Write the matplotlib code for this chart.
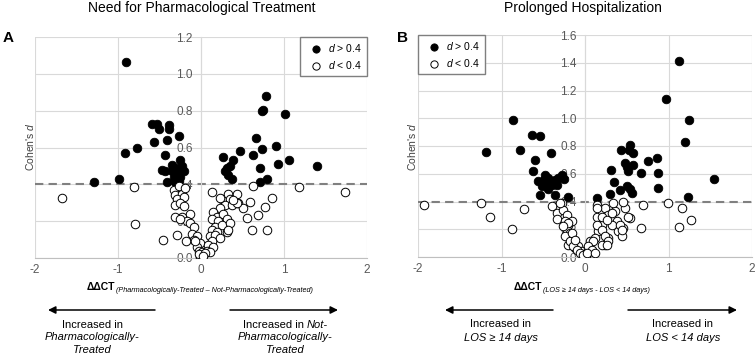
import matplotlib
matplotlib.use("Agg")
import matplotlib.pyplot as plt

plt.rcParams['font.family'] = ['Liberation Sans', 'DejaVu Sans']
plt.rcParams['mathtext.fontset'] = 'custom'
plt.rcParams['mathtext.rm'] = 'Liberation Sans'
plt.rcParams['mathtext.it'] = 'Liberation Sans:italic'

# ---- panel A: need for pharmacological treatment ----
a_sig_x = [-1.29, -0.99, -0.90, -0.92, -0.77, -0.59, -0.53, -0.51, -0.39, -0.39,
           -0.57, -0.41, -0.27, -0.43, -0.47, -0.43, -0.35, -0.25, -0.23, -0.21,
           -0.29, -0.33, -0.27, -0.41, -0.31, -0.25, -0.35, -0.30,
           0.78, 0.73, 0.75, 1.01, 0.66, 0.90, 0.73, 0.63, 0.47, 0.27,
           0.39, 0.35, 0.93, 1.06, 1.40, 0.29, 0.33, 0.37, 0.71, 0.71, 0.79, 0.31]
a_sig_y = [0.41, 0.43, 1.065, 0.57, 0.60, 0.73, 0.73, 0.70, 0.72, 0.70,
           0.63, 0.64, 0.66, 0.56, 0.48, 0.47, 0.505, 0.53, 0.50, 0.47,
           0.46, 0.44, 0.42, 0.415, 0.415, 0.44, 0.47, 0.49,
           0.88, 0.80, 0.805, 0.78, 0.65, 0.61, 0.59, 0.56, 0.58, 0.55,
           0.53, 0.50, 0.51, 0.53, 0.50, 0.47, 0.45, 0.43, 0.49, 0.415, 0.43, 0.49]
a_ns_x = [-1.67, -0.81, -0.80, -0.46, 1.18, 1.73, 0.63,
          -0.33, -0.31, -0.23, -0.29, -0.21, -0.31, -0.25, -0.21, -0.13, -0.23,
          -0.17, -0.31, -0.25, -0.13, -0.09, -0.11, -0.05, -0.09, -0.01, -0.05,
          -0.03, 0.01, 0.03, -0.01, -0.29, -0.18, -0.27, -0.19, -0.07, -0.02,
          0.13, 0.25, 0.33, 0.35, 0.43, 0.29, 0.23, 0.37, 0.45, 0.15, 0.19, 0.27,
          0.13, 0.21, 0.31, 0.17, 0.25, 0.35, 0.13, 0.19, 0.11, 0.17, 0.23, 0.13,
          0.09, 0.15, 0.07, 0.11, 0.05, 0.03, 0.31, 0.33,
          0.85, 0.77, 0.69, 0.79, 0.61, 0.55, 0.59, 0.51, 0.43, 0.39, 0.23]
a_ns_y = [0.325, 0.385, 0.185, 0.10, 0.385, 0.36, 0.39,
          0.37, 0.34, 0.35, 0.32, 0.33, 0.29, 0.30, 0.28, 0.24, 0.22,
          0.20, 0.22, 0.21, 0.19, 0.17, 0.13, 0.12, 0.10, 0.08, 0.06,
          0.04, 0.03, 0.016, 0.004, 0.125, 0.094, 0.39, 0.38, 0.09, 0.02,
          0.36, 0.32, 0.35, 0.32, 0.35, 0.29, 0.27, 0.29, 0.30, 0.25, 0.22, 0.24,
          0.21, 0.20, 0.21, 0.17, 0.18, 0.19, 0.15, 0.14, 0.12, 0.125, 0.11, 0.09,
          0.07, 0.06, 0.04, 0.03, 0.025, 0.01, 0.14, 0.152,
          0.324, 0.279, 0.234, 0.152, 0.152, 0.215, 0.306, 0.27, 0.297, 0.315, 0.324]

# ---- panel B: prolonged hospitalization ----
b_sig_x = [-1.19, -0.86, -0.64, -0.54, -0.78, -0.41, -0.60, -0.62, -0.48, -0.49,
           -0.44, -0.40, -0.36, -0.32, -0.27, -0.46, -0.40, -0.34, -0.52, -0.54,
           -0.36, -0.20, -0.25, -0.56, -0.44,
           1.13, 0.97, 1.24, 1.20, 1.55, 1.23, 0.54, 0.43, 0.58, 0.53, 0.75,
           0.86, 0.48, 0.50, 0.58, 0.52, 0.67, 0.87, 0.31, 0.35, 0.88, 0.42,
           0.50, 0.54, 0.56, 0.30, 0.14]
b_sig_y = [0.754, 0.99, 0.88, 0.87, 0.77, 0.75, 0.70, 0.62, 0.59, 0.557,
           0.57, 0.545, 0.557, 0.57, 0.593, 0.51, 0.52, 0.52, 0.51, 0.45,
           0.45, 0.43, 0.56, 0.545, 0.49,
           1.41, 1.14, 0.99, 0.83, 0.56, 0.43, 0.81, 0.77, 0.75, 0.77, 0.69,
           0.71, 0.68, 0.65, 0.665, 0.62, 0.605, 0.605, 0.63, 0.54, 0.50, 0.485,
           0.51, 0.49, 0.46, 0.454, 0.425]
b_ns_x = [-1.93, -1.24, -1.14, -0.87, -0.73, 0.70, 0.67, 0.99, 1.16, 1.27, 1.12,
          -0.39, -0.34, -0.33, -0.28, -0.26, -0.22, -0.24, -0.20, -0.22, -0.18,
          -0.16, -0.20, -0.14, -0.12, -0.08, -0.04, 0.00, 0.01, -0.30, -0.16,
          -0.24, -0.18, -0.14, -0.10, -0.06, -0.02, -0.20, -0.16, -0.12, -0.26,
          0.14, 0.14, 0.20, 0.24, 0.28, 0.20, 0.16, 0.12, 0.06, 0.04, 0.08, 0.24,
          0.28, 0.34, 0.38, 0.40, 0.44, 0.48, 0.46, 0.54, 0.46, 0.36, 0.32, 0.14,
          0.20, 0.26, 0.32, 0.34, 0.14, 0.20, 0.24, 0.28, 0.10, 0.04, 0.08, 0.02,
          0.12, 0.20, 0.26, 0.42, 0.44, 0.52]
b_ns_y = [0.377, 0.39, 0.29, 0.20, 0.346, 0.377, 0.209, 0.39, 0.353, 0.269, 0.216,
          0.365, 0.317, 0.274, 0.39, 0.34, 0.305, 0.257, 0.233, 0.197, 0.173,
          0.137, 0.089, 0.113, 0.065, 0.077, 0.04, 0.017, 0.005, 0.39, 0.257,
          0.149, 0.113, 0.077, 0.053, 0.029, 0.012, 0.245, 0.173, 0.125, 0.22,
          0.377, 0.29, 0.33, 0.353, 0.305, 0.233, 0.185, 0.137, 0.113, 0.065, 0.04, 0.089,
          0.137, 0.269, 0.257, 0.185, 0.149, 0.353, 0.40, 0.28, 0.209, 0.33, 0.233, 0.353,
          0.29, 0.269, 0.317, 0.39, 0.233, 0.197, 0.149, 0.113, 0.113, 0.077, 0.053, 0.029,
          0.029, 0.089, 0.089, 0.233, 0.197, 0.29]

x_ticks = [-2, -1, 0, 1, 2]
a_yticks = [0.0, 0.2, 0.4, 0.6, 0.8, 1.0, 1.2]
b_yticks = [0.0, 0.2, 0.4, 0.6, 0.8, 1.0, 1.2, 1.4, 1.6]
threshold = 0.4

W, H = 755, 357
fig = plt.figure(figsize=(W / 100, H / 100), dpi=100)


def fx(px):
    return px / W


def fy(py):
    return 1 - py / H


def volcano(ax, sx, sy, nx, ny, yticks, legend_loc):
    ax.set_xlim(-2, 2)
    ax.set_ylim(0, yticks[-1])
    ax.set_xticks(x_ticks)
    ax.set_xticklabels([str(t) for t in x_ticks])
    ax.set_yticks(yticks)
    ax.set_yticklabels(['%.1f' % t for t in yticks])
    ax.grid(True, color='#d9d9d9', lw=0.8)
    for s in ['top', 'right']:
        ax.spines[s].set_visible(False)
    ax.spines['left'].set_position(('data', 0))
    ax.spines['left'].set_color('#d9d9d9')
    ax.spines['bottom'].set_color('#bfbfbf')
    ax.tick_params(length=0, labelsize=8.5, colors='#595959', pad=4)
    ax.tick_params(axis='y', pad=6)
    ax.axhline(threshold, color='#808080', lw=1.5, ls=(0, (4, 2.5)), zorder=2)
    ax.scatter(sx, sy, s=38, c='black', edgecolors='black', lw=0.6, zorder=3,
               label='$d$ > 0.4')
    ax.scatter(nx, ny, s=38, c='white', edgecolors='black', lw=0.7, zorder=3,
               label='$d$ < 0.4')
    leg = ax.legend(loc=legend_loc, fontsize=7.5, frameon=True, fancybox=False,
                    edgecolor='#7f7f7f', framealpha=1, borderaxespad=0.0,
                    handletextpad=0.2, borderpad=0.5, labelspacing=0.45,
                    markerscale=0.85)
    leg.get_frame().set_linewidth(1.0)
    leg.set_zorder(5)


axA = fig.add_axes([fx(35), fy(258), fx(332), 221 / H])
volcano(axA, a_sig_x, a_sig_y, a_ns_x, a_ns_y, a_yticks, 'upper right')
axB = fig.add_axes([fx(418), fy(257), fx(334), 222 / H])
volcano(axB, b_sig_x, b_sig_y, b_ns_x, b_ns_y, b_yticks, 'upper left')

for ax, xpx in [(axA, 30), (axB, 412)]:
    fig.text(fx(xpx), 0.59, "Cohen's $d$", rotation=90, ha='center', va='center',
             fontsize=7.5, color='#404040')

fig.text(fx(202), fy(8), 'Need for Pharmacological Treatment', ha='center', va='center', fontsize=10)
fig.text(fx(583), fy(8), 'Prolonged Hospitalization', ha='center', va='center', fontsize=10)
fig.text(fx(8), fy(38), 'A', ha='center', va='center', fontsize=11, fontweight='bold')
fig.text(fx(402), fy(38), 'B', ha='center', va='center', fontsize=11, fontweight='bold')

# x-axis titles with subscripts
fig.text(fx(115), fy(290), 'ΔΔCT', ha='right', va='baseline', fontsize=7.5, fontweight='bold')
fig.text(fx(116), fy(292), '(Pharmacologically-Treated – Not-Pharmacologically-Treated)',
         ha='left', va='baseline', fontsize=5.2, style='italic')
fig.text(fx(542), fy(290), 'ΔΔCT', ha='right', va='baseline', fontsize=7.5, fontweight='bold')
fig.text(fx(543), fy(292), '(LOS ≥ 14 days - LOS < 14 days)',
         ha='left', va='baseline', fontsize=5.2, style='italic')

# direction arrows
arrow_kw = dict(arrowstyle='-|>', color='black', lw=1.1, mutation_scale=11,
                shrinkA=0, shrinkB=0)
for x0, x1 in [(155, 48), (230, 338), (553, 445), (628, 737)]:
    fig.add_artist(matplotlib.patches.FancyArrowPatch(
        (fx(x0), fy(310)), (fx(x1), fy(310)), transform=fig.transFigure, **arrow_kw))

fs = 8
fig.text(fx(92), fy(325), 'Increased in', ha='center', va='center', fontsize=fs)
fig.text(fx(92), fy(337.5), 'Pharmacologically-', ha='center', va='center', fontsize=fs, style='italic')
fig.text(fx(92), fy(350), 'Treated', ha='center', va='center', fontsize=fs, style='italic')
fig.text(fx(304), fy(325), 'Increased in', ha='right', va='center', fontsize=fs)
fig.text(fx(307), fy(325), 'Not-', ha='left', va='center', fontsize=fs, style='italic')
fig.text(fx(285), fy(337.5), 'Pharmacologically-', ha='center', va='center', fontsize=fs, style='italic')
fig.text(fx(285), fy(350), 'Treated', ha='center', va='center', fontsize=fs, style='italic')
fig.text(fx(501), fy(324), 'Increased in', ha='center', va='center', fontsize=fs)
fig.text(fx(501), fy(338), 'LOS ≥ 14 days', ha='center', va='center', fontsize=fs, style='italic')
fig.text(fx(683), fy(324), 'Increased in', ha='center', va='center', fontsize=fs)
fig.text(fx(683), fy(338), 'LOS < 14 days', ha='center', va='center', fontsize=fs, style='italic')

fig.savefig('out.png', dpi=100)
